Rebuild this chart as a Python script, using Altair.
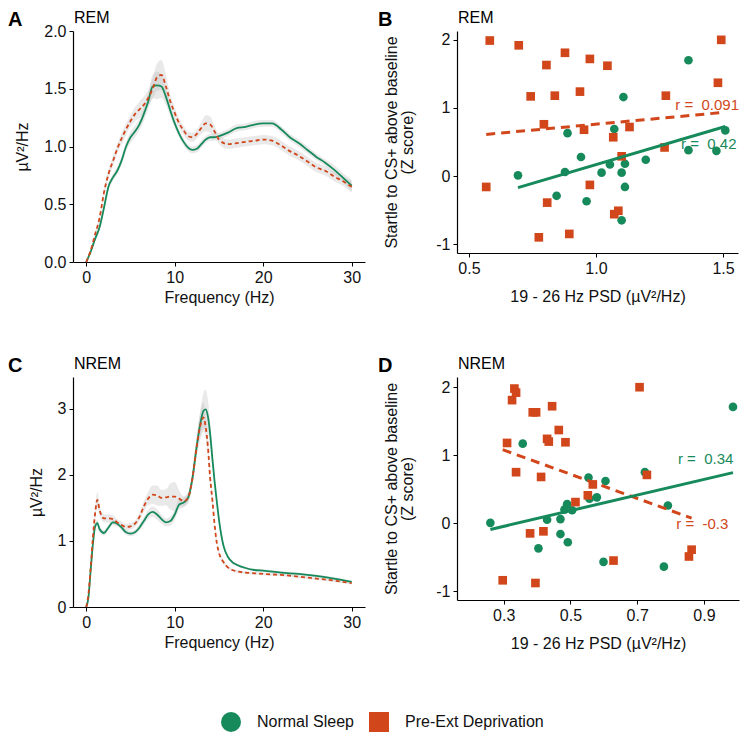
import altair as alt
import pandas as pd

GROUPS = ["Normal Sleep", "Pre-Ext Deprivation"]
GREEN = "#178a5c"
RED = "#d1471b"
FONT = "Liberation Sans"
NB = "\u00a0"

# ---------------- Panel A: REM spectra ----------------
freq_A = [0, 0.5, 1, 1.5, 2, 2.5, 3, 3.5, 4, 4.5, 5, 5.5, 6, 6.5, 7, 7.5, 8, 8.5, 9, 9.5,
          10, 10.5, 11, 11.5, 12, 12.5, 13, 13.5, 14, 14.5, 15, 16, 17, 18, 19, 20, 21,
          22, 23, 24, 25, 26, 27, 28, 29, 30]
rem_normal = [0, 0.09, 0.2, 0.3, 0.47, 0.65, 0.73, 0.79, 0.88, 1.0, 1.08, 1.13, 1.19, 1.28,
              1.39, 1.52, 1.53, 1.52, 1.43, 1.31, 1.2, 1.11, 1.04, 0.99, 0.97, 0.98, 1.02,
              1.06, 1.08, 1.08, 1.09, 1.12, 1.16, 1.17, 1.19, 1.2, 1.2, 1.15, 1.08, 1.03,
              0.97, 0.91, 0.86, 0.8, 0.73, 0.66]
rem_normal_se = [0.0, 0.01, 0.02, 0.02, 0.03, 0.03, 0.03, 0.03, 0.04, 0.04, 0.05, 0.05, 0.05,
                 0.06, 0.07, 0.1, 0.12, 0.1, 0.07, 0.05, 0.04, 0.03, 0.03, 0.03, 0.03, 0.03,
                 0.03, 0.03, 0.03, 0.03, 0.03, 0.03, 0.03, 0.03, 0.03, 0.03, 0.03, 0.03,
                 0.03, 0.03, 0.03, 0.03, 0.03, 0.04, 0.04, 0.05]
rem_depr = [0, 0.1, 0.24, 0.38, 0.6, 0.76, 0.87, 0.98, 1.07, 1.15, 1.22, 1.28, 1.32, 1.36,
            1.42, 1.5, 1.6, 1.62, 1.52, 1.39, 1.29, 1.2, 1.14, 1.09, 1.08, 1.11, 1.16, 1.2,
            1.19, 1.13, 1.06, 1.02, 1.03, 1.04, 1.05, 1.06, 1.05, 1.01, 0.96, 0.92, 0.87,
            0.82, 0.79, 0.74, 0.7, 0.65]
rem_depr_se = [0.0, 0.01, 0.02, 0.03, 0.03, 0.04, 0.04, 0.04, 0.05, 0.05, 0.05, 0.06, 0.07,
               0.07, 0.07, 0.09, 0.12, 0.13, 0.1, 0.06, 0.05, 0.04, 0.04, 0.04, 0.04, 0.04,
               0.05, 0.07, 0.07, 0.05, 0.04, 0.04, 0.04, 0.04, 0.04, 0.04, 0.04, 0.04,
               0.04, 0.04, 0.04, 0.04, 0.04, 0.04, 0.04, 0.05]

# ---------------- Panel C: NREM spectra ----------------
freq_C = [0, 0.25, 0.5, 0.75, 1, 1.25, 1.5, 2, 2.5, 3, 3.5, 4, 4.5, 5, 5.5, 6, 6.5, 7, 7.5,
          8, 8.5, 9, 9.5, 10, 10.5, 11, 11.5, 12, 12.5, 13, 13.25, 13.5, 13.75, 14, 14.25,
          14.5, 14.75, 15, 15.5, 16, 16.5, 17, 18, 19, 20, 22, 24, 26, 28, 30]
nrem_normal = [0, 0.15, 0.56, 0.95, 1.22, 1.27, 1.18, 1.12, 1.2, 1.28, 1.26, 1.2, 1.13, 1.11,
               1.13, 1.2, 1.3, 1.4, 1.44, 1.4, 1.33, 1.28, 1.3, 1.4, 1.55, 1.58, 1.65, 1.95,
               2.45, 2.85, 2.97, 2.99, 2.88, 2.62, 2.25, 1.9, 1.6, 1.32, 0.93, 0.76, 0.68,
               0.64, 0.59, 0.56, 0.55, 0.52, 0.5, 0.47, 0.43, 0.38]
nrem_normal_se = [0, 0.02, 0.03, 0.04, 0.05, 0.05, 0.05, 0.04, 0.04, 0.04, 0.04, 0.04, 0.04,
                  0.04, 0.04, 0.05, 0.06, 0.07, 0.08, 0.08, 0.07, 0.06, 0.07, 0.08, 0.08,
                  0.07, 0.07, 0.1, 0.15, 0.22, 0.27, 0.3, 0.25, 0.18, 0.12, 0.08, 0.06, 0.05,
                  0.03, 0.02, 0.02, 0.02, 0.02, 0.02, 0.02, 0.02, 0.02, 0.02, 0.02, 0.02]
nrem_depr = [0, 0.2, 0.6, 1.05, 1.42, 1.62, 1.47, 1.34, 1.34, 1.33, 1.28, 1.24, 1.21, 1.22,
             1.26, 1.36, 1.52, 1.64, 1.7, 1.69, 1.65, 1.66, 1.67, 1.67, 1.64, 1.6, 1.65,
             1.95, 2.45, 2.8, 2.87, 2.72, 2.42, 1.95, 1.62, 1.25, 0.97, 0.82, 0.68, 0.6,
             0.56, 0.54, 0.52, 0.51, 0.5, 0.485, 0.46, 0.43, 0.4, 0.36]
nrem_depr_se = [0, 0.03, 0.05, 0.08, 0.1, 0.12, 0.08, 0.06, 0.06, 0.06, 0.05, 0.05, 0.05,
                0.05, 0.05, 0.06, 0.08, 0.1, 0.14, 0.15, 0.12, 0.12, 0.2, 0.22, 0.12, 0.08,
                0.08, 0.1, 0.15, 0.22, 0.22, 0.18, 0.14, 0.1, 0.07, 0.05, 0.04, 0.03, 0.03,
                0.02, 0.02, 0.02, 0.02, 0.02, 0.02, 0.02, 0.02, 0.02, 0.02, 0.02]

# ---------------- Panel B: REM scatter ----------------
b_normal_x = [0.693, 0.888, 0.878, 0.941, 0.845, 0.963, 1.022, 1.055, 1.072, 1.108, 1.101,
              1.114, 1.114, 1.101, 1.196, 1.364, 1.364, 1.474, 1.509]
b_normal_y = [0.01, 0.63, 0.06, 0.28, -0.29, -0.37, 0.05, 0.17, 0.69, 1.16, 0.05, 0.18,
              -0.16, -0.65, 0.24, 1.70, 0.38, 0.37, 0.67]
b_depr_x = [0.582, 0.696, 0.878, 0.805, 0.976, 1.045, 0.743, 0.838, 0.937, 1.275, 1.493,
            1.480, 0.795, 0.953, 1.068, 1.132, 1.101, 1.270, 0.568, 0.976, 0.808, 1.072,
            1.088, 0.775, 0.895]
b_depr_y = [1.99, 1.92, 1.81, 1.63, 1.72, 1.62, 1.17, 1.18, 1.24, 1.18, 2.00, 1.37, 0.76,
            0.68, 0.57, 0.72, 0.29, 0.42, -0.16, -0.13, -0.39, -0.56, -0.51, -0.90, -0.85]

# ---------------- Panel D: NREM scatter ----------------
d_normal_x = [0.26, 0.357, 0.43, 0.404, 0.47, 0.47, 0.49, 0.482, 0.505, 0.492, 0.554, 0.557,
              0.579, 0.605, 0.599, 0.723, 0.792, 0.78, 0.987]
d_normal_y = [0.005, 1.17, 0.05, -0.37, 0.06, -0.16, 0.28, 0.2, 0.19, -0.28, 0.67, 0.36,
              0.38, 0.62, -0.57, 0.75, 0.26, -0.64, 1.71]
d_depr_x = [0.297, 0.395, 0.325, 0.332, 0.337, 0.31, 0.337, 0.387, 0.397, 0.445, 0.43, 0.435,
            0.465, 0.485, 0.412, 0.379, 0.419, 0.515, 0.552, 0.567, 0.629, 0.707, 0.729,
            0.855, 0.863]
d_depr_y = [-0.84, -0.88, 1.81, 1.98, 1.92, 1.18, 0.75, 1.63, 1.63, 1.72, 1.24, 1.20, 1.37,
            1.19, 0.68, -0.15, -0.12, 0.31, 0.41, 0.57, -0.55, 2.00, 0.71, -0.49, -0.39]

# correlation annotations (normal sleep, deprivation)
b_r_text = ["r =" + NB + NB + "0.42", "r =" + NB + NB + "0.091"]
b_r_x = [1.335, 1.312]
b_r_y = [0.47, 1.04]
d_r_text = ["r =" + NB + NB + "0.34", "r =" + NB + NB + "-0.3"]
d_r_x = [0.822, 0.817]
d_r_y = [0.95, -0.01]

color_scale = alt.Scale(domain=GROUPS, range=[GREEN, RED])
shape_scale = alt.Scale(domain=GROUPS, range=["circle", "square"])
legend_cfg = alt.Legend(title=None, orient="none", legendX=148, legendY=681,
                        direction="horizontal", symbolSize=400, labelFontSize=16,
                        labelOffset=16, columnPadding=15, symbolStrokeWidth=0,
                        labelColor="#111111", labelFont=FONT)


def spectrum_df(freq, a, a_se, b, b_se):
    rows = []
    for f, v, s in zip(freq, a, a_se):
        rows.append({"f": f, "v": v, "lo": v - s, "hi": v + s, "group": GROUPS[0]})
    for f, v, s in zip(freq, b, b_se):
        rows.append({"f": f, "v": v, "lo": v - s, "hi": v + s, "group": GROUPS[1]})
    return pd.DataFrame(rows)


def scatter_df(nx, ny, dx, dy):
    rows = [{"x": x, "y": y, "group": GROUPS[0]} for x, y in zip(nx, ny)]
    rows += [{"x": x, "y": y, "group": GROUPS[1]} for x, y in zip(dx, dy)]
    return pd.DataFrame(rows)


def label_layers(letter, title, lx):
    lab = pd.DataFrame({"t": [letter]})
    ttl = pd.DataFrame({"t": [title]})
    l1 = alt.Chart(lab).mark_text(align="left", baseline="top", fontSize=20,
                                  fontWeight="bold", font=FONT, color="black").encode(
        x=alt.value(lx), y=alt.value(-21), text="t:N")
    l2 = alt.Chart(ttl).mark_text(align="left", baseline="top", fontSize=16,
                                  font=FONT, color="black").encode(
        x=alt.value(1), y=alt.value(-21), text="t:N")
    return l1, l2


def spectrum_panel(df, ydom, yvals, yfmt, w, h, letter, title):
    x = alt.X("f:Q", scale=alt.Scale(domain=[-1.5, 31.5], nice=False, zero=False),
              axis=alt.Axis(values=[0, 10, 20, 30], title="Frequency (Hz)", format="d"))
    y_axis = alt.Axis(values=yvals, format=yfmt, title="µV²/Hz", titlePadding=13)
    ys = alt.Scale(domain=ydom, nice=False, zero=False)
    base = alt.Chart(df)
    ribbon = base.mark_area(color="#b5b5b5", opacity=0.3, interpolate="monotone").encode(
        x=x, y=alt.Y("lo:Q", scale=ys, axis=y_axis), y2="hi:Q", detail="group:N")
    normal = base.transform_filter(alt.datum.group == GROUPS[0]).mark_line(
        strokeWidth=1.8, interpolate="monotone", color=GREEN).encode(
        x=x, y=alt.Y("v:Q", scale=ys, axis=y_axis))
    depr = base.transform_filter(alt.datum.group == GROUPS[1]).mark_line(
        strokeWidth=1.8, strokeDash=[4, 3], interpolate="monotone", color=RED).encode(
        x=x, y=alt.Y("v:Q", scale=ys, axis=y_axis))
    l1, l2 = label_layers(letter, title, -65)
    return alt.layer(ribbon, normal, depr, l1, l2).properties(width=w, height=h)


def scatter_panel(df, xdom, xvals, ydom, rx, ry, rtext, w, h, letter, title):
    x = alt.X("x:Q", scale=alt.Scale(domain=xdom, nice=False, zero=False),
              axis=alt.Axis(values=xvals, format=".1f", titlePadding=12,
                            title="19 - 26 Hz PSD (µV²/Hz)"))
    y = alt.Y("y:Q", scale=alt.Scale(domain=ydom, nice=False, zero=False),
              axis=alt.Axis(values=[-1, 0, 1, 2], titlePadding=20, titleLineHeight=16,
                            labelExpr="replace(datum.label, '\u2212', '-')",
                            title=["Startle to CS+ above baseline", "(Z score)"]))
    base = alt.Chart(df)
    pts = base.mark_point(filled=True, size=75, opacity=1).encode(
        x=x, y=y,
        color=alt.Color("group:N", scale=color_scale, legend=legend_cfg),
        shape=alt.Shape("group:N", scale=shape_scale, legend=legend_cfg))
    reg_n = base.transform_filter(alt.datum.group == GROUPS[0]).transform_regression(
        "x", "y").mark_line(color=GREEN, strokeWidth=3).encode(x=x, y=y)
    reg_d = base.transform_filter(alt.datum.group == GROUPS[1]).transform_regression(
        "x", "y").mark_line(color=RED, strokeWidth=3, strokeDash=[9, 6]).encode(x=x, y=y)
    rn = alt.Chart(pd.DataFrame({"x": [rx[0]], "y": [ry[0]], "t": [rtext[0]]})).mark_text(
        align="left", baseline="middle", fontSize=15, font=FONT, color=GREEN).encode(
        x=x, y=y, text="t:N")
    rd = alt.Chart(pd.DataFrame({"x": [rx[1]], "y": [ry[1]], "t": [rtext[1]]})).mark_text(
        align="left", baseline="middle", fontSize=15, font=FONT, color=RED).encode(
        x=x, y=y, text="t:N")
    l1, l2 = label_layers(letter, title, -79)
    return alt.layer(pts, reg_d, reg_n, rn, rd, l1, l2).properties(width=w, height=h)


pA = spectrum_panel(spectrum_df(freq_A, rem_normal, rem_normal_se, rem_depr, rem_depr_se),
                    [0, 2.0], [0, 0.5, 1.0, 1.5, 2.0], ".1f", 292, 231, "A", "REM")
pC = spectrum_panel(spectrum_df(freq_C, nrem_normal, nrem_normal_se, nrem_depr, nrem_depr_se),
                    [0, 3.48], [0, 1, 2, 3], "d", 292, 230, "C", "NREM")
pB = scatter_panel(scatter_df(b_normal_x, b_normal_y, b_depr_x, b_depr_y),
                   [0.453, 1.559], [0.5, 1.0, 1.5], [-1.13, 2.13],
                   b_r_x, b_r_y, b_r_text, 281, 222, "B", "REM")
pD = scatter_panel(scatter_df(d_normal_x, d_normal_y, d_depr_x, d_depr_y),
                   [0.16, 1.005], [0.3, 0.5, 0.7, 0.9], [-1.13, 2.15],
                   d_r_x, d_r_y, d_r_text, 282, 223, "D", "NREM")

chart = alt.concat(pA, pB, pC, pD, columns=2, spacing={"row": 115, "column": 92},
                   bounds="flush", padding={"left": 0, "top": 2, "right": 0, "bottom": 0}
                   ).configure(font=FONT).configure_view(stroke=None).configure_axis(
    grid=False, domainColor="black", domainWidth=1.2, tickColor="black", tickSize=4,
    labelFontSize=16, labelColor="#111111", titleFontSize=16, titleColor="#111111",
    titleFontWeight="normal", labelFont=FONT, titleFont=FONT, labelPadding=3
)

chart.save("out.html", embed_options={"renderer": "svg", "actions": False})
